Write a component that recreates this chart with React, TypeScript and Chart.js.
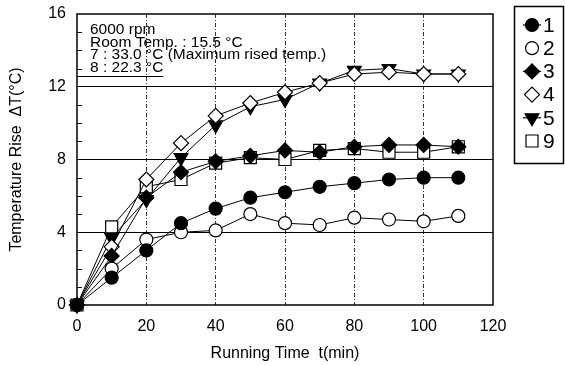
import React, { useEffect, useRef } from "react";
import { Chart, registerables } from "chart.js";

Chart.register(...registerables);

// ---- data ----
const times = [0, 10, 20, 30, 40, 50, 60, 70, 80, 90, 100, 110];
const series1 = [0, 1.5, 3.0, 4.5, 5.3, 5.9, 6.2, 6.5, 6.7, 6.9, 7.0, 7.0];
const series2 = [0, 2.0, 3.6, 4.0, 4.1, 5.0, 4.5, 4.4, 4.8, 4.7, 4.6, 4.9];
const series3 = [0, 2.7, 5.9, 7.3, 7.9, 8.2, 8.5, 8.4, 8.7, 8.8, 8.8, 8.7];
const series4 = [0, 3.2, 6.9, 8.9, 10.4, 11.1, 11.7, 12.2, 12.7, 12.8, 12.7, 12.7];
const series5 = [0, 3.7, 5.8, 8.1, 9.9, 10.9, 11.3, 12.2, 12.9, 13.0, 12.7, 12.7];
const series9 = [0, 4.3, 6.5, 6.9, 7.8, 8.1, 8.0, 8.5, 8.6, 8.4, 8.4, 8.7];
const seriesLabels = ["1", "2", "3", "4", "5", "9"];
const seriesValues = [series1, series2, series3, series4, series5, series9];
const yMajorTicks = [4, 8, 12];
const xGridTicks = [20, 40, 60, 80, 100];
const noteLines = [
  "6000 rpm",
  "Room Temp. : 15.5 \u00B0C",
  "7 : 33.0 \u00B0C (Maximum rised temp.)",
  "8 : 22.3 \u00B0C",
];
const xTitle = "Running Time  t(min)";
const yTitle = "Temperature Rise  \u0394T(\u00B0C)";

// ---- styles ----
const FONT = "'Liberation Sans', Arial, Helvetica, sans-serif";
const markerStyles = [
  { shape: "circle", fill: "#000", radius: 6.5, rotation: 0 },
  { shape: "circle", fill: "#fff", radius: 6.5, rotation: 0 },
  { shape: "rectRot", fill: "#000", radius: 7.5, rotation: 0 },
  { shape: "rectRot", fill: "#fff", radius: 7.5, rotation: 0 },
  { shape: "triangle", fill: "#000", radius: 8, rotation: 180 },
  { shape: "rect", fill: "#fff", radius: 8.5, rotation: 0 },
];

function drawMarker(ctx: CanvasRenderingContext2D, idx: number, x: number, y: number) {
  const st = markerStyles[idx];
  const r = st.radius;
  ctx.save();
  ctx.beginPath();
  if (st.shape === "circle") {
    ctx.arc(x, y, r, 0, Math.PI * 2);
  } else if (st.shape === "rectRot") {
    ctx.moveTo(x, y - r);
    ctx.lineTo(x + r, y);
    ctx.lineTo(x, y + r);
    ctx.lineTo(x - r, y);
    ctx.closePath();
  } else if (st.shape === "triangle") {
    const h = r * 0.5;
    const w = r * Math.sqrt(3) / 2;
    ctx.moveTo(x, y + r);
    ctx.lineTo(x + w, y - h);
    ctx.lineTo(x - w, y - h);
    ctx.closePath();
  } else {
    const s = r * Math.SQRT1_2;
    ctx.rect(x - s, y - s, 2 * s, 2 * s);
  }
  ctx.fillStyle = st.fill;
  ctx.fill();
  ctx.lineWidth = 1.2;
  ctx.strokeStyle = "#000";
  ctx.stroke();
  ctx.restore();
}

const framePlugin = {
  id: "frame",
  beforeDatasetsDraw(chart: any) {
    const { ctx, chartArea } = chart;
    const { left, top, right, bottom } = chartArea;
    const yScale = chart.scales.y;
    ctx.save();
    ctx.strokeStyle = "#000";
    ctx.lineWidth = 1.5;
    ctx.strokeRect(left, top, right - left, bottom - top);
    ctx.lineWidth = 1;
    for (let v = 1; v < 16; v++) {
      if (v % 4 === 0) continue;
      const py = Math.round(yScale.getPixelForValue(v)) + 0.5;
      ctx.beginPath();
      ctx.moveTo(left, py);
      ctx.lineTo(left + 5, py);
      ctx.stroke();
    }
    // annotation text
    ctx.fillStyle = "#000";
    ctx.font = `15.5px ${FONT}`;
    ctx.textBaseline = "middle";
    ctx.textAlign = "left";
    const tx = left + 13;
    noteLines.forEach((line, i) => {
      ctx.fillText(line, tx, top + 16 + i * 12.5);
    });
    const lastY = Math.round(top + 16 + 3 * 12.5 + 8) + 0.5;
    const w = ctx.measureText(noteLines[3]).width;
    ctx.beginPath();
    ctx.moveTo(left, lastY);
    ctx.lineTo(tx + w, lastY);
    ctx.stroke();
    ctx.restore();
  },
};

const legendPlugin = {
  id: "customLegend",
  afterDraw(chart: any) {
    const { ctx } = chart;
    const boxL = 514.5;
    const boxT = 6.5;
    const boxW = 49;
    const boxH = 157;
    ctx.save();
    ctx.strokeStyle = "#000";
    ctx.lineWidth = 1.5;
    ctx.strokeRect(boxL, boxT, boxW, boxH);
    ctx.font = `21px ${FONT}`;
    ctx.textBaseline = "middle";
    ctx.textAlign = "left";
    ctx.fillStyle = "#000";
    seriesLabels.forEach((lab, i) => {
      const y = 25 + i * 23.2;
      const mx = 532;
      if (markerStyles[i].fill === "#000") {
        ctx.lineWidth = 1.2;
        ctx.beginPath();
        ctx.moveTo(523, y);
        ctx.lineTo(541, y);
        ctx.stroke();
      }
      drawMarker(ctx, i, mx, y);
      ctx.fillStyle = "#000";
      ctx.fillText(lab, 543, y + 1);
    });
    ctx.restore();
  },
};

export default function App() {
  const canvasRef = useRef<HTMLCanvasElement | null>(null);

  useEffect(() => {
    const canvas = canvasRef.current;
    if (!canvas) return;
    const datasets = seriesValues.map((vals, i) => ({
      label: seriesLabels[i],
      data: times.map((t, j) => ({ x: t, y: vals[j] })),
      borderColor: "#000",
      borderWidth: 1,
      backgroundColor: markerStyles[i].fill,
      pointStyle: markerStyles[i].shape,
      pointRadius: markerStyles[i].radius,
      pointRotation: markerStyles[i].rotation,
      pointBorderColor: "#000",
      pointBorderWidth: 1.2,
      pointBackgroundColor: markerStyles[i].fill,
      tension: 0,
      clip: false as any,
    }));

    const chart = new Chart(canvas, {
      type: "line",
      data: { datasets },
      options: {
        animation: false,
        responsive: false,
        devicePixelRatio: 1,
        layout: { padding: { top: 14, right: 72, left: 0, bottom: 0 } },
        plugins: {
          legend: { display: false },
          tooltip: { enabled: false },
        },
        scales: {
          x: {
            type: "linear",
            min: 0,
            max: 120,
            ticks: {
              stepSize: 20,
              color: "#000",
              padding: 12,
              font: { family: FONT, size: 16 },
            },
            grid: {
              color: (c: any) => (xGridTicks.includes(c.tick?.value) ? "#333" : "transparent"),
              lineWidth: 1,
              drawTicks: false,
            },
            border: { display: false, dash: [4, 2, 1, 2] },
            title: {
              display: true,
              text: xTitle,
              color: "#000",
              font: { family: FONT, size: 16 },
              padding: { top: 0, bottom: 3 },
            },
            afterFit: (s: any) => {
              s.height = 61;
              s.paddingLeft = 0;
              s.paddingRight = 0;
            },
          },
          y: {
            type: "linear",
            min: 0,
            max: 16,
            ticks: {
              stepSize: 4,
              color: "#000",
              padding: 11,
              font: { family: FONT, size: 16 },
            },
            grid: {
              color: (c: any) => (yMajorTicks.includes(c.tick?.value) ? "#000" : "transparent"),
              lineWidth: 1,
              drawTicks: false,
            },
            border: { display: false },
            title: {
              display: true,
              text: yTitle,
              color: "#000",
              font: { family: FONT, size: 16 },
              padding: { top: 7, bottom: 0 },
            },
            afterFit: (s: any) => {
              s.width = 77;
              s.paddingTop = 0;
              s.paddingBottom = 0;
            },
          },
        },
      } as any,
      plugins: [framePlugin, legendPlugin],
    });
    return () => chart.destroy();
  }, []);

  return (
    <div style={{ position: "absolute", left: 0, top: 0, width: 565, height: 366, background: "#fff" }}>
      <canvas ref={canvasRef} width={565} height={366} style={{ display: "block" }} />
    </div>
  );
}
